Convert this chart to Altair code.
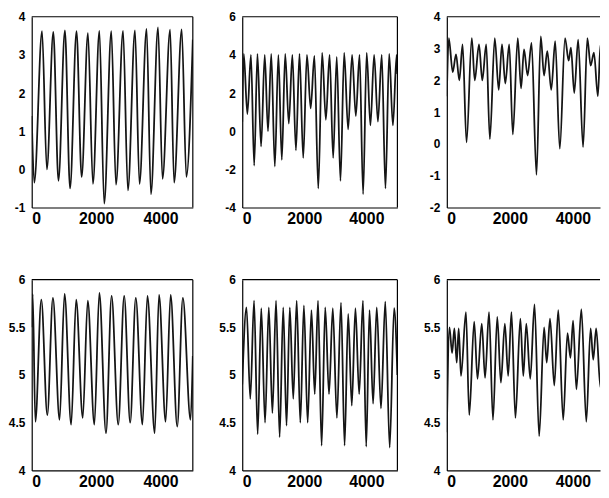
import altair as alt
import pandas as pd

# ---- data (local extrema of each series) ----
p1_t = [0, 80, 320, 470, 670, 830, 1030, 1190, 1390, 1550, 1745, 1900, 2100, 2250, 2470, 2615,
        2835, 2985, 3205, 3345, 3565, 3700, 3920, 4060, 4295, 4420, 4655, 4800, 5000]
p1_v = [1.4, -0.35, 3.62, 0.0, 3.6, -0.3, 3.64, -0.5, 3.62, -0.2, 3.57, -0.38, 3.63, -0.9, 3.62, -0.4,
        3.63, -0.55, 3.64, -0.38, 3.68, -0.65, 3.72, -0.25, 3.66, -0.35, 3.67, -0.2, 3.4]

p2_t = [0, 50, 165, 280, 385, 490, 607, 725, 830, 935, 1050, 1165, 1275, 1385, 1500, 1615, 1730,
        1845, 1965, 2085, 2205, 2325, 2450, 2575, 2695, 2815, 2930, 3045, 3165, 3285, 3412, 3540,
        3660, 3780, 3895, 4010, 4130, 4250, 4372, 4495, 4615, 4735, 4855, 4975, 5000]
p2_v = [0.5, 4.05, 0.9, 4.0, -1.8, 4.05, -0.8, 4.0, 0.0, 4.05, -1.85, 4.0, -1.5, 4.05, 0.4, 4.0, -1.0,
        4.05, -1.4, 4.0, 1.2, 3.95, -3.0, 4.1, 0.6, 4.0, -1.4, 3.9, -2.6, 4.1, 0.1, 4.0,
        0.8, 4.0, -3.3, 4.1, 0.3, 4.0, 0.5, 4.0, -3.0, 4.05, 0.3, 4.0, 3.0]

p3_t = [0, 62, 188, 292, 396, 500, 625, 792, 886, 1021, 1125, 1250, 1365, 1521, 1646, 1750, 1855,
        1980, 2094, 2250, 2355, 2449, 2563, 2688, 2844, 2980, 3084, 3188, 3313, 3438, 3584, 3750,
        3865, 3938, 4042, 4167, 4323, 4458, 4563, 4667, 4792, 4875, 5000]
p3_v = [1.5, 3.33, 2.26, 2.82, 2.0, 3.13, 0.05, 3.33, 2.0, 3.13, 2.0, 3.13, 0.15, 3.33, 1.7, 3.13, 1.9,
        3.13, 0.3, 3.33, 1.75, 2.97, 2.15, 3.18, -0.97, 3.38, 2.15, 2.92, 1.7, 3.23, -0.15, 3.33,
        2.62, 3.03, 1.6, 3.28, -0.1, 3.33, 2.46, 2.87, 1.5, 3.13, 2.4]

p4_t = [0, 30, 113, 298, 484, 658, 864, 1019, 1224, 1379, 1584, 1739, 1944, 2099, 2305, 2479, 2685,
        2870, 3056, 3230, 3436, 3591, 3817, 3951, 4156, 4311, 4516, 4691, 4928, 5000]
p4_v = [5.5, 5.85, 4.51, 5.79, 4.58, 5.81, 4.53, 5.85, 4.48, 5.79, 4.55, 5.78, 4.48, 5.86, 4.39, 5.83, 4.48,
        5.83, 4.5, 5.81, 4.48, 5.83, 4.39, 5.84, 4.51, 5.84, 4.46, 5.81, 4.53, 5.2]

p5_t = [0, 137, 259, 381, 497, 613, 735, 856, 972, 1089, 1205, 1321, 1427, 1533, 1644, 1755, 1871,
        1987, 2108, 2230, 2336, 2442, 2558, 2674, 2796, 2918, 3050, 3182, 3298, 3414, 3530, 3647,
        3768, 3890, 3995, 4101, 4217, 4334, 4471, 4609, 4751, 4894, 5000]
p5_v = [4.9, 5.71, 4.75, 5.78, 4.38, 5.7, 4.5, 5.71, 4.6, 5.78, 4.35, 5.71, 4.47, 5.71, 4.75, 5.78, 4.5,
        5.73, 4.5, 5.68, 4.8, 5.78, 4.26, 5.71, 4.8, 5.7, 4.55, 5.76, 4.26, 5.64, 4.68, 5.7,
        4.8, 5.78, 4.25, 5.68, 4.7, 5.71, 4.65, 5.77, 4.24, 5.7, 5.0]

p6_t = [0, 84, 167, 240, 314, 377, 450, 607, 711, 868, 973, 1109, 1213, 1339, 1464, 1600, 1715, 1841,
        1946, 2050, 2176, 2333, 2427, 2521, 2647, 2782, 2929, 3086, 3169, 3274, 3410, 3535, 3692,
        3828, 3922, 4006, 4111, 4268, 4425, 4561, 4645, 4738, 4874, 4968, 5000]
p6_v = [4.4, 5.5, 5.23, 5.49, 5.13, 5.49, 4.99, 5.66, 4.58, 5.56, 4.96, 5.54, 4.97, 5.66, 4.53, 5.61, 4.92, 5.54,
        4.99, 5.66, 4.55, 5.59, 4.99, 5.54, 4.96, 5.74, 4.36, 5.5, 5.13, 5.59, 4.89, 5.68, 4.53,
        5.44, 5.18, 5.57, 4.85, 5.69, 4.51, 5.49, 5.16, 5.49, 4.87, 5.59, 5.4]

x_ticks = [0, 2000, 4000]
y_ticks_1 = [-1, 0, 1, 2, 3, 4]
y_ticks_2 = [-4, -2, 0, 2, 4, 6]
y_ticks_3 = [-2, -1, 0, 1, 2, 3, 4]
y_ticks_low = [4, 4.5, 5, 5.5, 6]

H = 193
W1, W2, W3 = 163, 157, 155
FONT = "Liberation Sans"


def panel(ts, vs, ydom, yticks, width, xmax, right_frame=True):
    df = pd.DataFrame({"t": ts, "v": vs})
    x = alt.X("t:Q", scale=alt.Scale(domain=[0, xmax], nice=False, zero=False),
              axis=alt.Axis(values=x_ticks, title=None, labelExpr="'' + datum.value",
                            labelOverlap=False, labelPadding=3))
    y = alt.Y("v:Q", scale=alt.Scale(domain=ydom, nice=False, zero=False),
              axis=alt.Axis(values=yticks, title=None, labelExpr="'' + datum.value",
                            labelOverlap=False, labelPadding=7))
    line = alt.Chart(df).mark_line(interpolate="monotone", color="#151515",
                                   strokeWidth=1.8, clip=True).encode(x=x, y=y)
    frame = pd.DataFrame({"k": [0]})
    top = alt.Chart(frame).mark_rule(color="black", strokeWidth=1.2).encode(
        x=alt.value(0), x2=alt.value(width), y=alt.value(0))
    layers = [line, top]
    if right_frame:
        right = alt.Chart(frame).mark_rule(color="black", strokeWidth=1.2).encode(
            x=alt.value(width), y=alt.value(0), y2=alt.value(H))
        layers.append(right)
    return alt.layer(*layers).properties(width=width, height=H)


c1 = panel(p1_t, p1_v, [-1, 4], y_ticks_1, W1, 5000)
c2 = panel(p2_t, p2_v, [-4, 6], y_ticks_2, W2, 5000)
c3 = panel(p3_t, p3_v, [-2, 4], y_ticks_3, W3, 4860, right_frame=False)
c4 = panel(p4_t, p4_v, [4, 6], y_ticks_low, W1, 5000)
c5 = panel(p5_t, p5_v, [4, 6], y_ticks_low, W2, 5000)
c6 = panel(p6_t, p6_v, [4, 6], y_ticks_low, W3, 4860, right_frame=False)

chart = alt.concat(c1, c2, c3, c4, c5, c6, columns=3,
                   spacing={"row": 73, "column": 50}, bounds="flush", align="each").properties(
    padding={"left": 0, "top": 0, "right": 0, "bottom": 0}
).configure_view(stroke=None).configure_axis(
    grid=False, tickSize=0, domain=True, domainColor="black", domainWidth=1.2,
    labelFont=FONT, labelFontWeight="bold", labelColor="black"
).configure_axisX(labelFontSize=16).configure_axisY(labelFontSize=12)

chart.save("out.html", embed_options={"renderer": "svg", "actions": False})
